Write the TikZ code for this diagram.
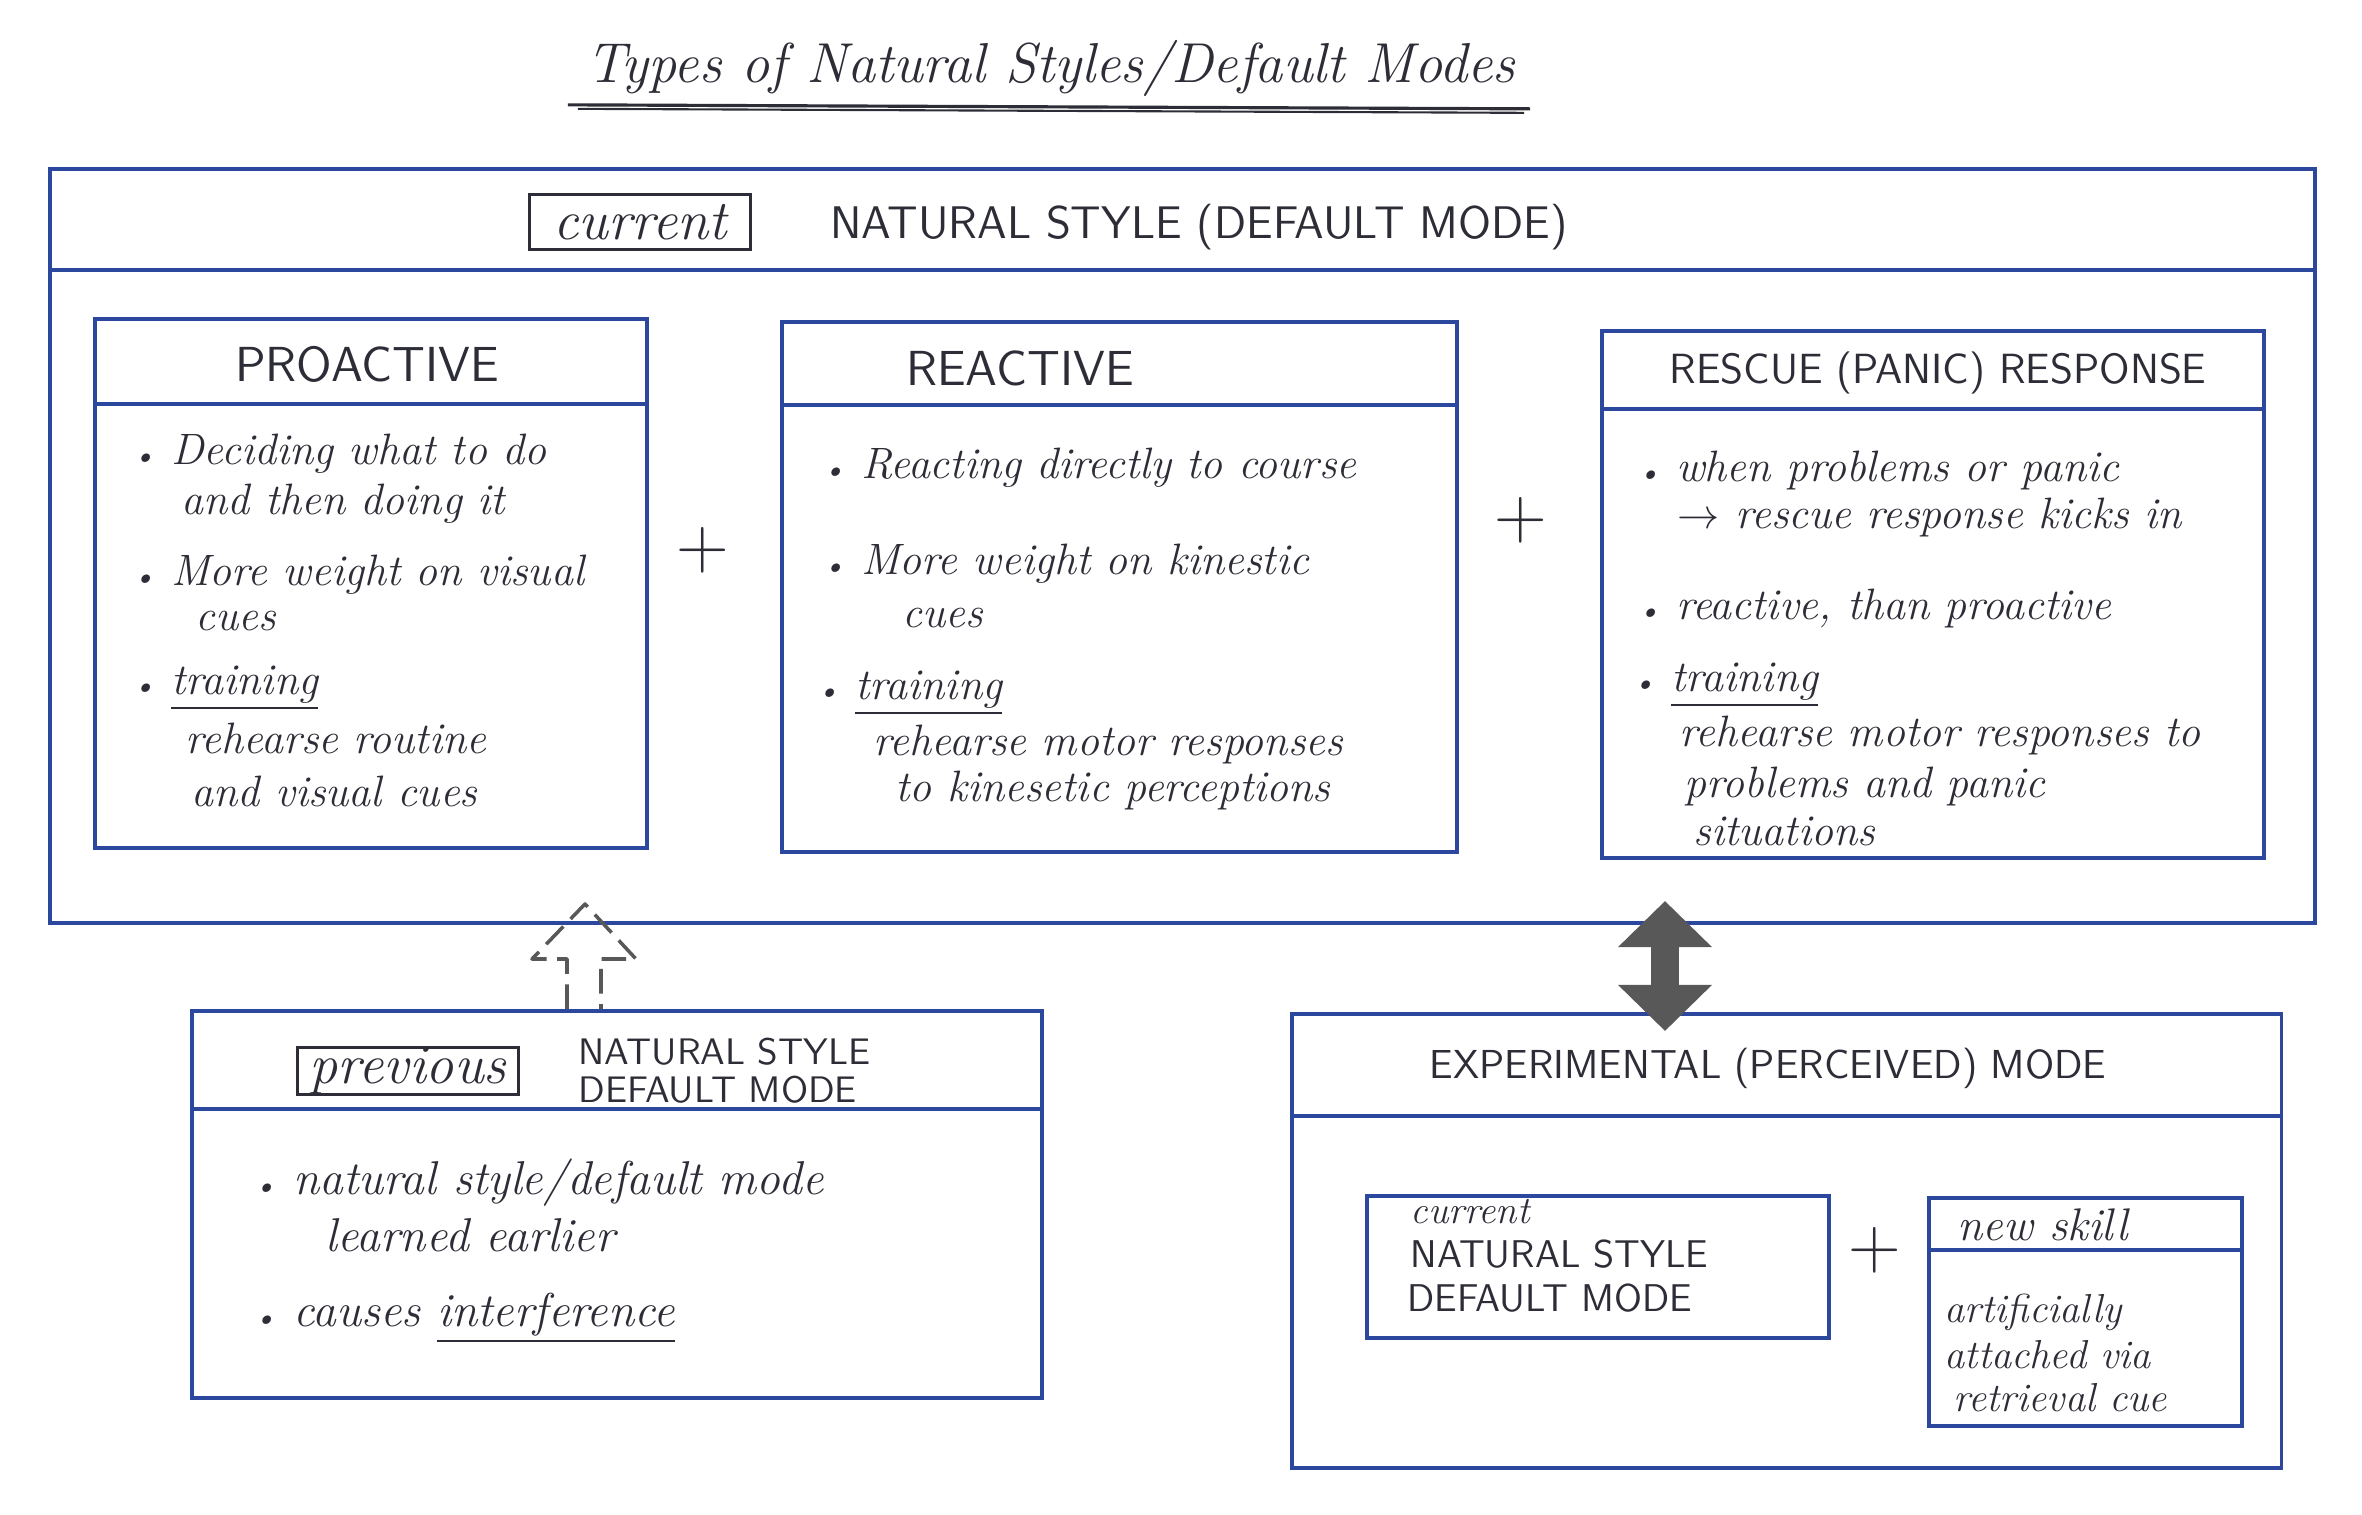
\documentclass[tikz,border=0pt]{standalone}
\usetikzlibrary{arrows.meta,calc,positioning}
\definecolor{boxblue}{RGB}{44,72,158}
\definecolor{ink}{RGB}{45,45,55}
\definecolor{arrowgray}{RGB}{88,88,88}
\newcommand{\dotb}{{\footnotesize\textbullet}\ }
\tikzset{
  panel/.style={draw=boxblue, line width=1.1pt, inner sep=0pt, anchor=north west},
  rule/.style={draw=boxblue, line width=1.1pt},
  tagbox/.style={draw=ink, line width=0.8pt, inner sep=0pt, anchor=north west, text=ink,
    font=\fontsize{16}{18}\selectfont\itshape},
  title/.style={inner sep=0pt, text=ink, font=\fontsize{16}{18}\selectfont\itshape},
  note/.style={anchor=west, inner sep=0pt, text=ink, font=\fontsize{12.5}{15}\selectfont\itshape},
  bignote/.style={note, font=\fontsize{13.5}{16}\selectfont\itshape},
  head/.style={inner sep=0pt, text=ink, font=\fontsize{13}{15}\selectfont\sffamily},
  smallhead/.style={anchor=west, inner sep=0pt, text=ink, font=\fontsize{10.5}{12}\selectfont\sffamily},
  plus/.style={inner sep=0pt, text=ink, font=\fontsize{22}{24}\selectfont},
  hollowarrow/.style={draw=arrowgray, line width=1pt, dash pattern=on 7pt off 3pt, line join=round},
  dblarrow/.style={draw=arrowgray, line width=8pt,
    {Triangle[length=4.6mm,width=9.1mm]}-{Triangle[length=4.6mm,width=9.1mm]}},
}
\begin{document}
\begin{tikzpicture}[x=0.01cm, y=-0.01cm]
  \useasboundingbox (0,0) rectangle (2362,1515);
  % title
  \node[title] (title) at (1051,68) {Types of Natural Styles/Default Modes};
  \draw[ink, line width=0.9pt] ($(title.south west)+(-18,8)$) -- ($(title.south east)+(14,12)$);
  \draw[ink, line width=0.6pt] ($(title.south west)+(-8,12)$) -- ($(title.south east)+(8,16)$);

  % current natural style
  \node[panel, minimum width=22.64cm, minimum height=7.54cm] (outer) at (48,167) {};
  \draw[rule] ([yshift=-1.03cm]outer.north west) -- ([yshift=-1.03cm]outer.north east);
  \node[tagbox, minimum width=2.21cm, minimum height=0.55cm] (curtag) at (528,193) {current};
  \node[head] (natural) at (1199,227) {NATURAL STYLE (DEFAULT MODE)};

  % proactive
  \node[panel, minimum width=5.52cm, minimum height=5.29cm] (pro) at (93,317) {};
  \draw[rule] ([yshift=-0.87cm]pro.north west) -- ([yshift=-0.87cm]pro.north east);
  \node[head, font=\fontsize{14}{16}\selectfont\sffamily] (prohead) at (367,364) {PROACTIVE};
  \node[note] (pro1) at (132,454) {\dotb Deciding what to do};
  \node[note] (pro2) at (181,504) {and then doing it};
  \node[note] (pro3) at (132,575) {\dotb More weight on visual};
  \node[note] (pro4) at (195,621) {cues};
  \node[note] (pro5) at (132,688) {\dotb \underline{training}};
  \node[note] (pro6) at (185,738) {rehearse routine};
  \node[note] (pro7) at (191,791) {and visual cues};

  \node[plus] (plusA) at (703,550) {$+$};

  % reactive
  \node[panel, minimum width=6.75cm, minimum height=5.30cm] (rea) at (780,320) {};
  \draw[rule] ([yshift=-0.85cm]rea.north west) -- ([yshift=-0.85cm]rea.north east);
  \node[head, font=\fontsize{14}{16}\selectfont\sffamily] (reahead) at (1020,368) {REACTIVE};
  \node[note] (rea1) at (822,468) {\dotb Reacting directly to course};
  \node[note] (rea2) at (822,564) {\dotb More weight on kinestic};
  \node[note] (rea3) at (902,618) {cues};
  \node[note] (rea4) at (816,693) {\dotb \underline{training}};
  \node[note] (rea5) at (873,745) {rehearse motor responses};
  \node[note] (rea6) at (895,791) {to kinesetic perceptions};

  \node[plus] (plusB) at (1521,520) {$+$};

  % rescue
  \node[panel, minimum width=6.62cm, minimum height=5.27cm] (res) at (1600,329) {};
  \draw[rule] ([yshift=-0.80cm]res.north west) -- ([yshift=-0.80cm]res.north east);
  \node[head, font=\fontsize{12}{14}\selectfont\sffamily] (reshead) at (1938,373) {RESCUE (PANIC) RESPONSE};
  \node[note] (res1) at (1637,471) {\dotb when problems or panic};
  \node[note] (res2) at (1677,518) {$\rightarrow$ rescue response kicks in};
  \node[note] (res3) at (1637,609) {\dotb reactive, than proactive};
  \node[note] (res4) at (1632,685) {\dotb \underline{training}};
  \node[note] (res5) at (1679,736) {rehearse motor responses to};
  \node[note] (res6) at (1684,787) {problems and panic};
  \node[note] (res7) at (1693,831) {situations};

  % previous natural style
  \node[panel, minimum width=8.50cm, minimum height=3.87cm] (prev) at (190,1009) {};
  \draw[rule] ([yshift=-1.00cm]prev.north west) -- ([yshift=-1.00cm]prev.north east);
  \node[tagbox, minimum width=2.21cm, minimum height=0.41cm] (prevtag) at (296,1046) {previous};
  \node[smallhead] (prevhead1) at (578,1052) {NATURAL STYLE};
  \node[smallhead] (prevhead2) at (578,1090) {DEFAULT MODE};
  \node[bignote] (prev1) at (253,1183) {\dotb natural style/default mode};
  \node[bignote] (prev2) at (325,1235) {learned earlier};
  \node[bignote] (prev3) at (253,1318) {\dotb causes \underline{interference}};

  % experimental mode
  \node[panel, minimum width=9.89cm, minimum height=4.54cm] (exp) at (1290,1012) {};
  \draw[rule] ([yshift=-1.04cm]exp.north west) -- ([yshift=-1.04cm]exp.north east);
  \node[head, font=\fontsize{11.5}{13}\selectfont\sffamily] (exphead) at (1768,1068) {EXPERIMENTAL (PERCEIVED) MODE};
  \node[panel, minimum width=4.62cm, minimum height=1.42cm] (cur) at (1365,1194) {};
  \node[note, font=\fontsize{11}{13}\selectfont\itshape] (cur1) at (1410,1212) {current};
  \node[smallhead, font=\fontsize{11}{13}\selectfont\sffamily] (cur2) at (1410,1254) {NATURAL STYLE};
  \node[smallhead, font=\fontsize{11}{13}\selectfont\sffamily] (cur3) at (1407,1298) {DEFAULT MODE};
  \node[plus] (plusC) at (1875,1250) {$+$};
  \node[panel, minimum width=3.13cm, minimum height=2.28cm] (skill) at (1927,1196) {};
  \draw[rule] ([yshift=-0.54cm]skill.north west) -- ([yshift=-0.54cm]skill.north east);
  \node[note, font=\fontsize{13}{15}\selectfont\itshape] (skill1) at (1957,1225) {new skill};
  \node[note, font=\fontsize{11.5}{13}\selectfont\itshape] (skill2) at (1944,1312) {artificially};
  \node[note, font=\fontsize{11.5}{13}\selectfont\itshape] (skill3) at (1944,1355) {attached via};
  \node[note, font=\fontsize{11.5}{13}\selectfont\itshape] (skill4) at (1953,1398) {retrieval cue};

  % arrows
  \coordinate (upfoot) at (584,1009);
  \draw[hollowarrow] ($(upfoot)+(-17,0)$) -- ++(0,-50) -- ++(-35,0) -- ($(upfoot)+(1,-105)$)
    -- ($(upfoot)+(52,-50)$) -- ++(-35,0) -- ++(0,50);
  \coordinate (dbot) at (1665,1031);
  \coordinate (dtop) at (1665,901);
  \draw[dblarrow] (dbot) -- (dtop);
\end{tikzpicture}
\end{document}
